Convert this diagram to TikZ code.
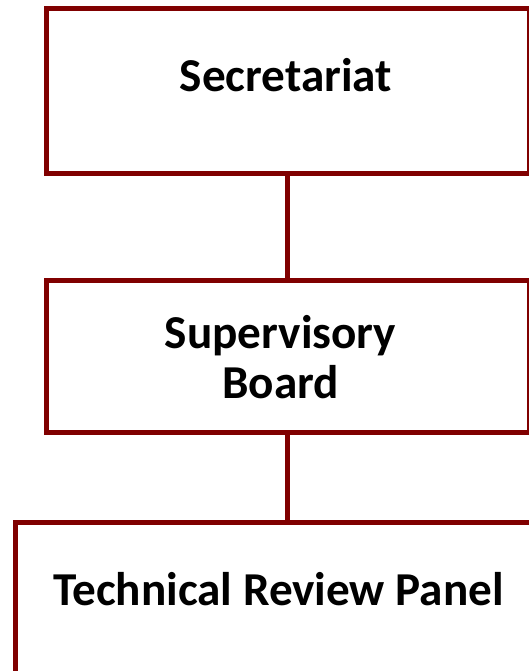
\documentclass[tikz,border=0pt]{standalone}
\usepackage{fontspec}
\setmainfont{Carlito}
\usetikzlibrary{positioning}

\begin{document}
\begin{tikzpicture}[
  x=1pt, y=-1pt,
  unit/.style={draw=orgred, line width=5pt, rectangle, inner sep=0pt, fill=white},
  lbl/.style={font=\fontsize{47.2}{50}\selectfont\bfseries, align=center, anchor=base, inner sep=0pt},
  link/.style={draw=orgred, line width=5pt}
]
  \definecolor{orgred}{RGB}{128,0,0}
  \useasboundingbox (0,0) rectangle (529,671);

  % Boxes
  \node[unit, minimum width=483.5pt, minimum height=165pt] (sec) at (287.75, 91) {};
  \node[unit, minimum width=483.5pt, minimum height=152pt] (sup) at (287.75, 356.5) {};
  \node[unit, minimum width=545.5pt, minimum height=160pt] (trp) at (287.75, 602.5) {};

  % Connectors
  \draw[link] (sec.south) -- (sup.north);
  \draw[link] (sup.south) -- (trp.north);

  % Labels
  \node[lbl] (sectxt) at (286, 92) {Secretariat};
  \node[lbl] (suptxt) at (280.5, 398) {Supervisory\\Board};
  \node[lbl] (trptxt) at (278.5, 605) {Technical Review Panel};
\end{tikzpicture}
\end{document}
